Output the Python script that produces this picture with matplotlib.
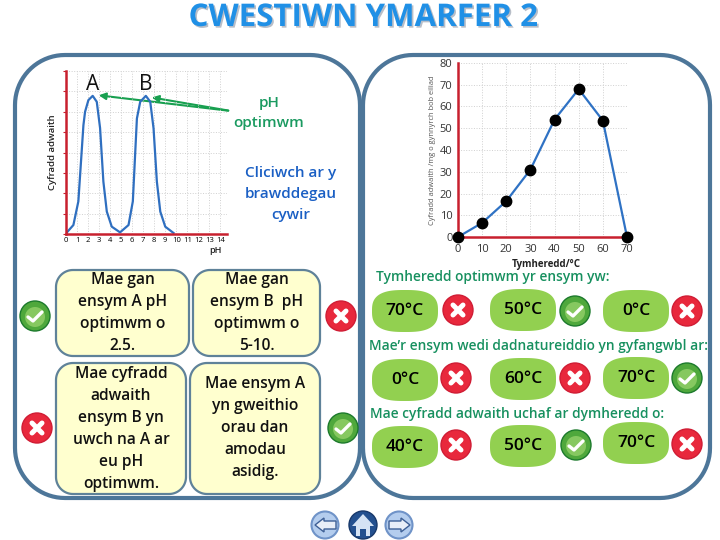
import numpy as np
import matplotlib
matplotlib.use('Agg')
import matplotlib.pyplot as plt
import matplotlib.patheffects as pe
from matplotlib.patches import Circle, Polygon

plt.rcParams['font.family'] = ['Open Sans', 'DejaVu Sans']

# enzyme A and B curves
ph_values = [0, 0.67, 1.12, 1.58, 1.73, 2.03, 2.42, 2.79, 3.09, 3.39, 3.7, 4.15, 4.9, 5.67, 6.06, 6.43, 6.73,
             7.24, 7.64, 7.94, 8.24, 8.55, 9.0, 9.75]
ph_rate = [0.03, 0.44, 1.6, 5.34, 6.0, 6.57, 6.78, 6.49, 5.2, 2.57, 1.1, 0.36, 0.08, 0.44, 1.6, 5.67, 6.49,
           6.78, 6.49, 5.18, 2.57, 1.1, 0.36, 0.05]
ph_ticks = list(range(15))

# temperature curve
temps = [0, 10, 20, 30, 40, 50, 60, 70]
temp_rate = [0, 6.5, 16.5, 31, 54, 68, 53.5, 0]
temp_yticks = [0, 10, 20, 30, 40, 50, 60, 70, 80]

# statements: text, box (left, top, right, bottom)
statements = [
    ('Mae gan\nensym A pH\noptimwm o\n2.5.', (56, 270, 189, 356)),
    ('Mae gan\nensym B  pH\noptimwm o\n5-10.', (193, 270, 320, 356)),
    ('Mae cyfradd\nadwaith\nensym B yn\nuwch na A ar\neu pH\noptimwm.', (56, 363, 186, 494)),
    ('Mae ensym A\nyn gweithio\norau dan\namodau\nasidig.', (190, 363, 320, 494)),
]
# icons: x, y, right answer
icons = [
    (35, 316, True), (341, 316, False), (37, 428, False), (343, 428, True),
    (458, 310, False), (575, 311, True), (687, 311, False),
    (456, 378, False), (575, 378, False), (687, 378, True),
    (456, 445, False), (576, 445, True), (687, 444, False),
]
# answer pills: label, centre x, centre y
pills = [
    ('70°C', 405, 311), ('50°C', 523, 310), ('0°C', 636, 311),
    ('0°C', 405, 380), ('60°C', 523, 379), ('70°C', 636, 378),
    ('40°C', 405, 447), ('50°C', 523, 446), ('70°C', 636, 443),
]
questions = [
    ('Tymheredd optimwm yr ensym yw:', 376, 277),
    ('Mae’r ensym wedi dadnatureiddio yn gyfangwbl ar:', 369, 346),
    ('Mae cyfradd adwaith uchaf ar dymheredd o:', 370, 414),
]

fig = plt.figure(figsize=(7.2, 5.4), dpi=100)

# page layer in pixel coords
page = fig.add_axes([0, 0, 1, 1])
page.set_xlim(0, 720)
page.set_ylim(540, 0)
page.axis('off')


def rbox(ax, x0, y0, x1, y1, r, fc, ec, lw):
    # rounded box with true circular corners
    t = np.linspace(0, np.pi / 2, 20)
    xs = np.concatenate([x1 - r + r * np.cos(t), x0 + r - r * np.sin(t), x0 + r - r * np.cos(t), x1 - r + r * np.sin(t)])
    ys = np.concatenate([y0 + r - r * np.sin(t), y0 + r - r * np.cos(t), y1 - r + r * np.sin(t), y1 - r + r * np.cos(t)])
    ax.add_patch(Polygon(np.column_stack([xs, ys]), closed=True, fc=fc, ec=ec, lw=lw))


def pill(ax, cx, cy, a, b, fc, n=2.8):
    # superellipse, between an ellipse and a stadium
    t = np.linspace(0, 2 * np.pi, 120)
    xs = cx + a * np.sign(np.cos(t)) * np.abs(np.cos(t)) ** (2 / n)
    ys = cy + b * np.sign(np.sin(t)) * np.abs(np.sin(t)) ** (2 / n)
    ax.add_patch(Polygon(np.column_stack([xs, ys]), closed=True, fc=fc, ec='none'))


page.text(363, 18, 'CWESTIWN YMARFER 2', ha='center', va='center', fontsize=22.5, fontweight='bold',
          color='#2090e6', path_effects=[pe.withSimplePatchShadow(offset=(1.2, -1.2), shadow_rgbFace='#b8bec8', alpha=1)])

rbox(page, 15, 55, 360, 498, 50, 'white', '#4d7699', 3)
rbox(page, 363, 55, 710, 498, 50, 'white', '#4d7699', 3)

for text, (x0, y0, x1, y1) in statements:
    rbox(page, x0, y0, x1, y1, 17, '#ffffcf', '#5f8299', 1.6)
    page.text((x0 + x1) / 2, (y0 + y1) / 2, text, ha='center', va='center', fontsize=11.2,
              linespacing=1.5, color='#111111', fontweight='semibold')

for label, cx, cy in pills:
    pill(page, cx, cy, 33, 21, '#92d050')
    page.text(cx, cy, label, ha='center', va='center', fontsize=12.5, color='black', fontweight='semibold')

for text, x, y in questions:
    page.text(x, y, text, ha='left', va='center', fontsize=9.9, color='#17905f', fontweight='semibold')

for x, y, ok in icons:
    edge = '#1c7a2c' if ok else '#d01c34'
    face = '#4fa83c' if ok else '#e8283c'
    page.add_patch(Circle((x, y), 15, fc=face, ec=edge, lw=1))
    if ok:
        page.add_patch(Circle((x, y + 1), 10, fc='#86c860', ec='none'))
        page.plot([x - 7, x - 2, x + 7], [y + 1, y + 5, y - 4], color='white', lw=2.4, solid_capstyle='round')
    else:
        page.plot([x - 5, x + 5], [y - 5, y + 5], color='white', lw=3.6, solid_capstyle='round')
        page.plot([x - 5, x + 5], [y + 5, y - 5], color='white', lw=3.6, solid_capstyle='round')

# nav buttons
page.add_patch(Circle((325, 525), 13.5, fc='#b4cdee', ec='#6f93c8', lw=1.5))
page.add_patch(Polygon([(315, 525), (324, 518), (324, 521), (336, 521), (336, 529), (324, 529), (324, 532)],
                       fc='#e8eef8', ec='#3d5f96', lw=1))
page.add_patch(Circle((363, 525), 14, fc='#23508f', ec='#17386a', lw=1))
page.add_patch(Polygon([(352, 526), (363, 514), (374, 526), (370, 526), (370, 536), (366, 536), (366, 529),
                        (360, 529), (360, 536), (356, 536), (356, 526)], fc='#d5e3f4', ec='none'))
page.add_patch(Circle((399, 525), 13.5, fc='#b4cdee', ec='#6f93c8', lw=1.5))
page.add_patch(Polygon([(410, 525), (401, 518), (401, 521), (389, 521), (389, 529), (401, 529), (401, 532)],
                       fc='#e8eef8', ec='#3d5f96', lw=1))

page.text(269, 113, 'pH\noptimwm', ha='center', va='center', fontsize=11, color='#1a9a60', linespacing=1.6,
          fontweight='semibold')
page.text(291, 194, 'Cliciwch ar y\nbrawddegau\ncywir', ha='center', va='center', fontsize=11, color='#1a5fc4',
          linespacing=1.64, fontweight='semibold')


def chart(left, right, top, bottom):
    ax = fig.add_axes([left / 720, 1 - bottom / 540, (right - left) / 720, (bottom - top) / 540])
    ax.patch.set_alpha(0)
    for s in ('top', 'right'):
        ax.spines[s].set_visible(False)
    for s in ('left', 'bottom'):
        ax.spines[s].set_color('#c8202e')
        ax.spines[s].set_linewidth(1.8)
    ax.grid(True, color='#d0d0d0', ls=':', lw=0.7)
    ax.set_axisbelow(True)
    return ax


# pH chart
ax1 = chart(66, 227, 71, 234)
ax1.plot(ph_values, ph_rate, color='#2f6fc0', lw=1.6)
ax1.set_xlim(0, 14.6)
ax1.set_ylim(0, 8)
ax1.set_xticks(ph_ticks)
ax1.set_yticks(range(9))
ax1.set_yticklabels([])
ax1.tick_params(axis='x', length=0, labelsize=5.5, pad=2)
ax1.tick_params(axis='y', length=2, color='#c8202e')
ax1.set_ylabel('Cyfradd adwaith', fontsize=6.8, labelpad=1, color='#222222', fontweight='semibold')
ax1.text(14.1, -0.8, 'pH', fontsize=6.5, ha='right', va='center', color='#222222', fontweight='semibold')
ax1.text(2.4, 7.35, 'A', fontsize=15, ha='center', va='center', color='#111111')
ax1.text(7.2, 7.35, 'B', fontsize=15, ha='center', va='center', color='#111111')

# green arrows from the label to the two peaks
page.annotate('', xy=(96, 95), xytext=(231, 111), arrowprops=dict(arrowstyle='-|>', color='#18a050', lw=1.5))
page.annotate('', xy=(149, 97), xytext=(231, 111), arrowprops=dict(arrowstyle='-|>', color='#18a050', lw=1.5))

# temperature chart
ax2 = chart(458, 627, 63, 237)
ax2.plot(temps, temp_rate, color='#2f72c4', lw=1.6, marker='o', ms=7.5, mfc='black', mec='black', clip_on=False, zorder=5)
ax2.set_xlim(0, 70)
ax2.set_ylim(0, 80)
ax2.set_xticks(temps)
ax2.set_yticks(temp_yticks)
ax2.tick_params(length=0, labelsize=8, colors='#333333')
ax2.tick_params(axis='x', pad=5)
ax2.tick_params(axis='y', pad=4)
ax2.set_xlabel('Tymheredd/°C', fontsize=7, fontweight='bold', labelpad=3, color='#222222', x=0.52)
ax2.set_ylabel('Cyfradd adwaith /mg o gynnyrch bob eiliad', fontsize=5.4, labelpad=3, color='#555555')

fig.savefig('out.png', dpi=100)
